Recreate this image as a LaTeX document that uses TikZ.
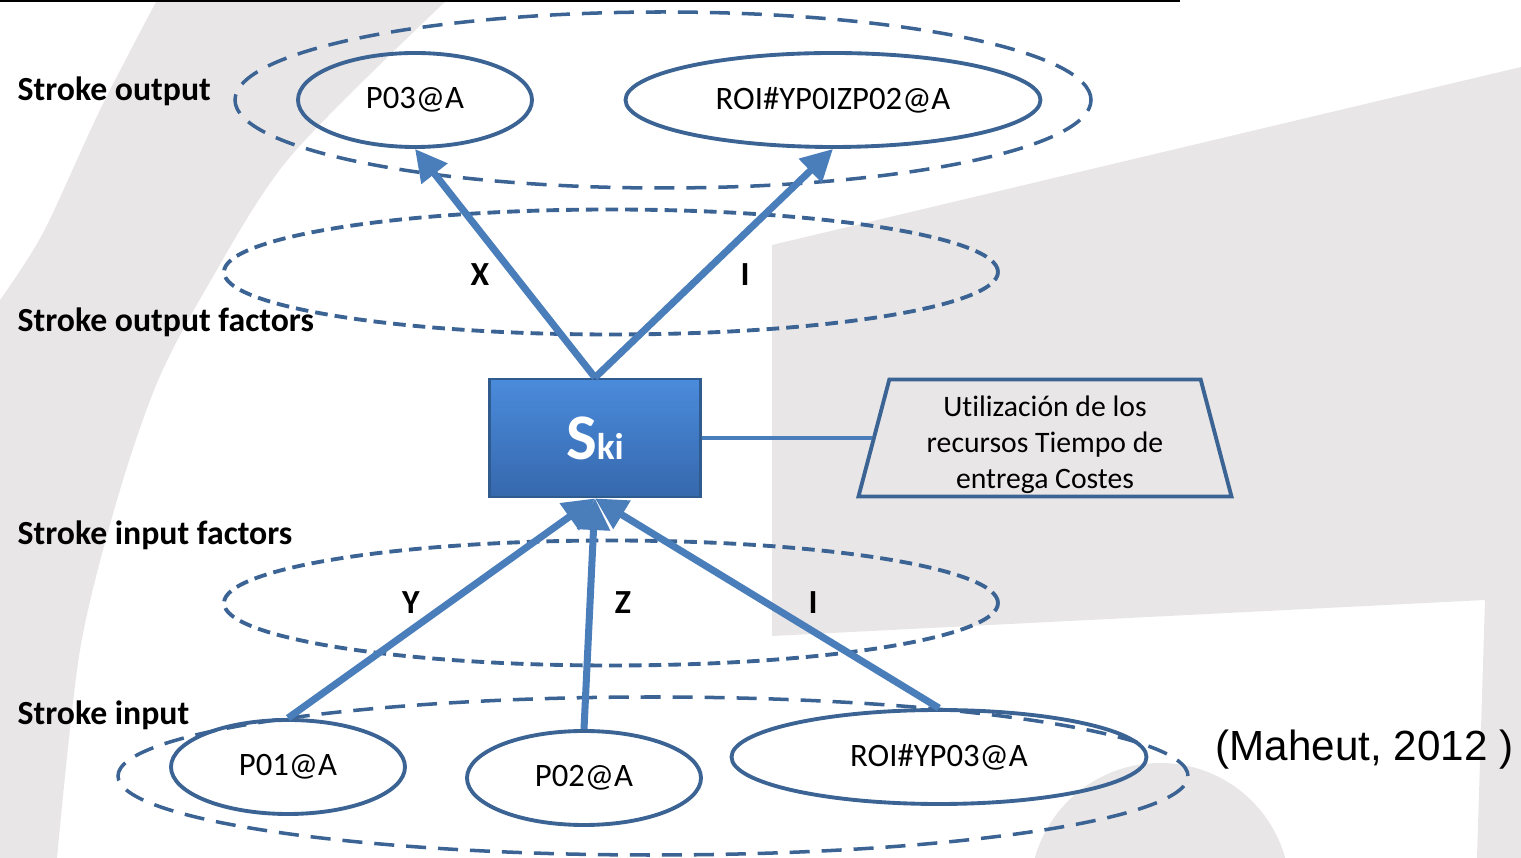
\documentclass[tikz,border=0pt]{standalone}
\usepackage{fontspec}
\setmainfont{Carlito}[Ligatures=NoCommon]
\newfontfamily\arialfont{Liberation Sans}
\usetikzlibrary{positioning,arrows.meta,shapes.geometric}

\definecolor{zoneblue}{HTML}{3B6494}
\definecolor{flowblue}{HTML}{4A7EBB}
\definecolor{logogray}{HTML}{E9E6E7}
\definecolor{boxtop}{HTML}{4A8BDB}
\definecolor{boxbottom}{HTML}{3668AD}
\definecolor{boxborder}{HTML}{2F5B8F}

\begin{document}
\begin{tikzpicture}[
    % Dashed layer ellipses (stroke output / input)
    zone/.style={
        ellipse,
        draw=zoneblue,
        dash pattern=on 5.7pt off 3.4pt,
        line width=1pt,
        inner sep=0pt
    },
    % Dashed factor ellipses, finer dashes
    factorzone/.style={
        zone,
        dash pattern=on 3.6pt off 2pt,
        line width=1.1pt
    },
    % Solid stroke ellipses
    part/.style={
        ellipse,
        draw=zoneblue,
        line width=1.1pt,
        minimum height=0.94cm,
        inner sep=0pt,
        font=\fontsize{9.3}{11}\selectfont
    },
    % Layer names on the left
    layer/.style={
        anchor=west,
        inner sep=0pt,
        font=\fontsize{9.6}{11}\selectfont\bfseries
    },
    % Factor letters on the arrows
    factor/.style={
        inner sep=0pt,
        font=\fontsize{9.6}{11}\selectfont\bfseries
    },
    % Thick blue arrows
    flow/.style={
        draw=flowblue,
        line width=2pt,
        -{Triangle[length=9pt,width=9pt]}
    }
]
\useasboundingbox (0,0) rectangle (15.21,-8.58);

% --- Background logo shapes ---
\begin{scope}
\clip (0,0) rectangle (15.21,-8.58);
\fill[logogray] plot[smooth] coordinates {(4.47,0) (2.90,-1.57) (2.07,-2.87) (1.57,-3.83) (1.17,-5.00) (0.80,-6.50) (0.57,-8.58)}
    -- (0,-8.58) -- plot[smooth] coordinates {(0,-3.00) (0.43,-2.33) (1.00,-1.10) (1.57,0)} -- cycle;
\fill[logogray] (7.72,-2.45) -- (15.21,-0.67) -- (15.21,-8.58) -- (14.77,-8.58)
    -- (14.85,-6.00) -- (7.72,-6.36) -- cycle;
\fill[logogray] (11.60,-8.93) circle (1.30);
\end{scope}
\draw[line width=0.6pt] (0,-0.01) -- (11.8,-0.01);

% --- Layer zones ---
\node[zone, minimum width=8.56cm, minimum height=1.76cm] (outzone) at (6.63,-1.00) {};
\node[factorzone, minimum width=7.74cm, minimum height=1.25cm] (outfac) at (6.11,-2.72) {};
\node[factorzone, minimum width=7.74cm, minimum height=1.25cm] (infac) at (6.11,-6.03) {};
\node[zone, minimum width=10.70cm, minimum height=1.58cm] (inzone) at (6.53,-7.76) {};

% --- Stroke output / input ---
\node[part, minimum width=2.34cm] (p03) at (4.15,-1.00) {P03@A};
\node[part, minimum width=4.15cm] (roi02) at (8.33,-1.00) {ROI\#YP0IZP02@A};
\node[part, minimum width=2.34cm] (p01) at (2.88,-7.67) {P01@A};
\node[part, minimum width=2.34cm] (p02) at (5.84,-7.78) {P02@A};
\node[part, minimum width=4.15cm] (roi03) at (9.39,-7.57) {ROI\#YP03@A};

% --- Central stroke and its metrics ---
\node[draw=boxborder, line width=0.8pt, top color=boxtop, bottom color=boxbottom,
      minimum width=2.11cm, minimum height=1.18cm, inner sep=0pt, text=white] (ski) at (5.95,-4.38)
    {\fontsize{18.5}{20}\selectfont\bfseries S\fontsize{10.6}{12}\selectfont ki};

\node[trapezium, trapezium angle=74, trapezium stretches body, draw=zoneblue, line width=1.1pt,
      minimum width=3.73cm, minimum height=1.17cm, inner sep=0pt,
      font=\fontsize{8.45}{10.2}\selectfont, right=1.70cm of ski] (usage)
    {\raisebox{-0.07cm}[\height][\depth]{\begin{tabular}{@{}c@{}}Utilización de los\\recursos Tiempo de\\entrega Costes\end{tabular}}};

\draw[flowblue, line width=1.1pt] (ski) -- (usage);

% --- Arrows ---
\draw[flow] (ski.north) -- (p03.south);
\draw[flow] (ski.north) -- (roi02.south);
\draw[flow] (p01.north) -- (ski.south);
\draw[flow] (p02.north) -- (ski.south);
\draw[flow] (roi03.north) -- (ski.south);

% --- Labels ---
\node[factor] (xlab) at (4.80,-2.75) {X};
\node[factor] (ioutlab) at (7.45,-2.75) {I};
\node[factor] (ylab) at (4.11,-6.03) {Y};
\node[factor] (zlab) at (6.23,-6.03) {Z};
\node[factor] (iinlab) at (8.13,-6.03) {I};

\node[layer] (lblout) at (0.17,-0.91) {Stroke output};
\node[layer] (lbloutfac) at (0.17,-3.22) {Stroke output factors};
\node[layer] (lblinfac) at (0.17,-5.35) {Stroke input factors};
\node[layer] (lblin) at (0.17,-7.15) {Stroke input};

\node[anchor=west, inner sep=0pt, font=\arialfont\fontsize{12}{14}\selectfont] (cite) at (12.15,-7.50)
    {(Maheut, 2012 )};
\end{tikzpicture}
\end{document}
